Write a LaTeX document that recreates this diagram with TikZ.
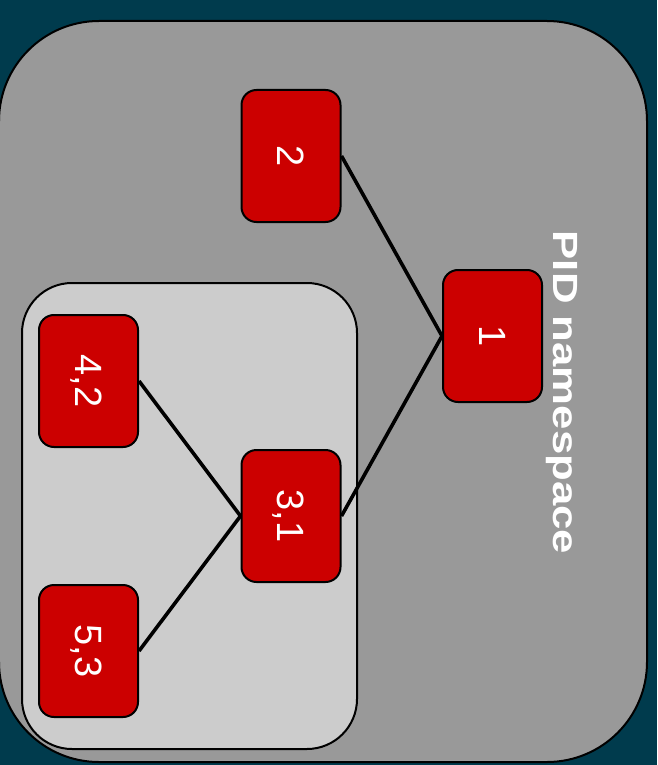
\documentclass[tikz,border=0pt]{standalone}
\usepackage{fontspec}
\setmainfont{Liberation Sans}
\usepackage{graphicx}
\definecolor{bgteal}{HTML}{003B4D}
\definecolor{nsgray}{HTML}{999999}
\definecolor{childgray}{HTML}{CCCCCC}
\definecolor{pidred}{HTML}{CC0000}
\begin{document}
\begin{tikzpicture}[x=1pt,y=-1pt,
  pidbox/.style={draw=black, line width=2pt, fill=pidred, rounded corners=15pt,
    rotate=-90, minimum width=132pt, minimum height=99pt, inner sep=0pt,
    text=white, font=\fontsize{38}{40}\selectfont, text height=27pt, text depth=0pt},
  link/.style={line width=3.6pt},
  region/.style={draw=black, line width=2pt}]
  % canvas
  \fill[bgteal] (0,0) rectangle (657,765);
  \useasboundingbox (0,0) rectangle (657,765);
  % outer PID namespace
  \draw[region, fill=nsgray, rounded corners=100pt] (-1,21) rectangle (647,762);
  % child namespace
  \draw[region, fill=childgray, rounded corners=50pt] (22,283) rectangle (357,749);
  % title
  \node[rotate=-90, anchor=base, text=white, inner sep=0pt,
        font=\bfseries\fontsize{35}{40}\selectfont] (title) at (553,392.5)
        {\scalebox{1.25}[1]{PID namespace}};
  % process positions
  \path (291,156) coordinate (c2) (492.5,336) coordinate (c1)
        (291,516) coordinate (c31) (88.5,381) coordinate (c42)
        (88.5,651) coordinate (c53);
  % processes (rotated, so .north faces right and .south faces left)
  \node[pidbox] (n2)  at (c2)  {2};
  \node[pidbox] (n1)  at (c1)  {1};
  \node[pidbox] (n31) at (c31) {3,1};
  \node[pidbox] (n42) at (c42) {4,2};
  \node[pidbox] (n53) at (c53) {5,3};
  % child-to-parent links
  \draw[link] (n2.north) -- (n1.south);
  \draw[link] (n31.north) -- (n1.south);
  \draw[link] (n42.north) -- (n31.south);
  \draw[link] (n53.north) -- (n31.south);
\end{tikzpicture}
\end{document}
